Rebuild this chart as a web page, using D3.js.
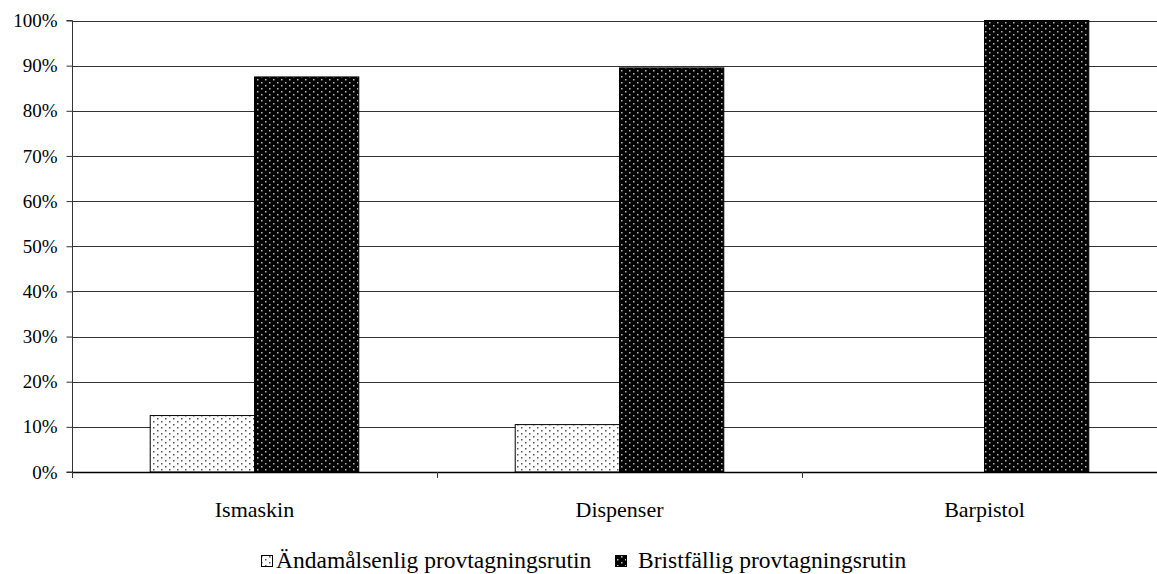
<!DOCTYPE html>
<html><head><meta charset="utf-8">
<script src="https://cdn.jsdelivr.net/npm/d3@7"></script>
<style>
html,body{margin:0;padding:0;background:#fff;}
svg{display:block;font-family:"Liberation Serif","Times New Roman",serif;}
</style></head>
<body>
<svg id="chart" width="1157" height="574"></svg>
<script>
const categories = ["Ismaskin", "Dispenser", "Barpistol"];
const seriesNames = ["Ändamålsenlig provtagningsrutin", "Bristfällig provtagningsrutin"];
const seriesGood = [12.5, 10.5, 0];
const seriesBad = [87.5, 89.5, 100];
const yTicks = [0, 10, 20, 30, 40, 50, 60, 70, 80, 90, 100];

(function(){
const svg = d3.select("#chart");
const defs = svg.append("defs");

const pl = defs.append("pattern").attr("id","pLight").attr("patternUnits","userSpaceOnUse")
  .attr("width",8).attr("height",6);
pl.append("rect").attr("width",8).attr("height",6).attr("fill","#fff");
pl.append("rect").attr("x",1).attr("y",1).attr("width",1.5).attr("height",1.5).attr("fill","#555");
pl.append("rect").attr("x",5).attr("y",4).attr("width",1.5).attr("height",1.5).attr("fill","#555");

const pd = defs.append("pattern").attr("id","pDark").attr("patternUnits","userSpaceOnUse")
  .attr("width",8).attr("height",6);
pd.append("rect").attr("width",8).attr("height",6).attr("fill","#000");
pd.append("rect").attr("x",1).attr("y",1).attr("width",1.5).attr("height",1.5).attr("fill","#bbb");
pd.append("rect").attr("x",5).attr("y",4).attr("width",1.5).attr("height",1.5).attr("fill","#bbb");

const mLeft = 72, mTop = 20.5, mBottom = 472;
const catW = 365;
const x = d3.scaleBand().domain(categories).range([mLeft, mLeft + catW * categories.length]).paddingInner(0).paddingOuter(0);
const barW = catW / 3.5;
const y = d3.scaleLinear().domain([0,100]).range([mBottom, mTop]);

svg.append("g").selectAll("line").data(yTicks.filter(d=>d>0)).join("line")
  .attr("x1", mLeft).attr("x2", 1157)
  .attr("y1", d=>Math.round(y(d))+0.5).attr("y2", d=>Math.round(y(d))+0.5)
  .attr("stroke","#333").attr("stroke-width",1);

const data = [];
categories.forEach((c,i)=>{
  data.push({c, s:0, v:seriesGood[i]});
  data.push({c, s:1, v:seriesBad[i]});
});
svg.append("g").selectAll("rect").data(data.filter(d=>d.v>0)).join("rect")
  .attr("x", d=> x(d.c) + barW*0.75 + d.s*barW)
  .attr("width", barW)
  .attr("y", d=> y(d.v))
  .attr("height", d=> y(0) - y(d.v))
  .attr("fill", d=> d.s===0 ? "url(#pLight)" : "url(#pDark)")
  .attr("stroke","#000").attr("stroke-width",1);

const yAxis = d3.axisLeft(y).tickValues(yTicks).tickFormat(d=>d+"%").tickSize(6).tickPadding(9);
const gy = svg.append("g").attr("transform",`translate(${mLeft+0.5},0)`).call(yAxis);
gy.select(".domain").attr("stroke","#333").attr("d",`M-6,${mTop}H0V${mBottom}H-6`);
gy.selectAll(".tick line").attr("stroke","#333");
gy.selectAll(".tick text").attr("fill","#000").style("font-size","19px").style("font-family","Liberation Serif");

svg.append("line").attr("x1",mLeft).attr("x2",1157).attr("y1",mBottom+0.5).attr("y2",mBottom+0.5)
  .attr("stroke","#000").attr("stroke-width",1.5);
const boundaries = d3.range(categories.length+1).map(i=> mLeft + i*catW);
svg.append("g").selectAll("line").data(boundaries).join("line")
  .attr("x1",d=>d+0.5).attr("x2",d=>d+0.5).attr("y1",mBottom).attr("y2",mBottom+6)
  .attr("stroke","#333");
svg.append("g").selectAll("text").data(categories).join("text")
  .attr("x", d=> x(d) + x.bandwidth()/2).attr("y", 517)
  .attr("text-anchor","middle").style("font-size","22px").text(d=>d);

const leg = svg.append("g");
const items = [
  {name: seriesNames[0], fill:"url(#pLight)", bx:261, tx:276},
  {name: seriesNames[1], fill:"url(#pDark)", bx:615, tx:638}
];
items.forEach(it=>{
  leg.append("rect").attr("x",it.bx+0.5).attr("y",555.5).attr("width",11).attr("height",11)
    .attr("fill",it.fill).attr("stroke","#000").attr("stroke-width",1);
  leg.append("text").attr("x",it.tx).attr("y",568).style("font-size","23.5px").text(it.name);
});
})();
</script>
</body></html>
